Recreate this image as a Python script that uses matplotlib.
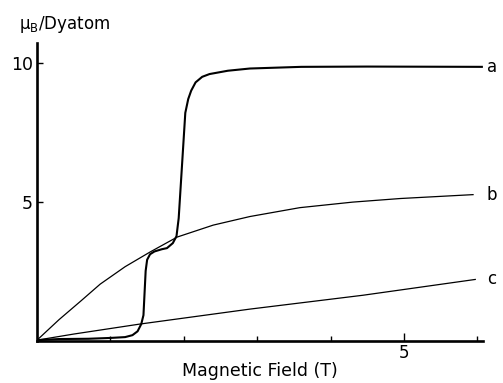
import numpy as np
import matplotlib
matplotlib.use("Agg")
import matplotlib.pyplot as plt

# field (T) and moment (muB / Dy atom)
field_a = [0, 0.3, 0.7, 1.0, 1.2, 1.3, 1.37, 1.42, 1.45, 1.48, 1.50, 1.54, 1.60,
           1.70, 1.77, 1.85, 1.90, 1.93, 2.02, 2.06, 2.10, 2.16, 2.25, 2.35,
           2.60, 2.90, 3.60, 4.50, 6.06]
moment_a = [0, 0.04, 0.05, 0.08, 0.11, 0.18, 0.32, 0.58, 0.9, 2.5, 2.9, 3.1, 3.2,
            3.28, 3.32, 3.5, 3.75, 4.4, 8.2, 8.7, 9.0, 9.3, 9.5, 9.6,
            9.72, 9.8, 9.86, 9.87, 9.86]

field_b = [0, 0.3, 0.6, 0.86, 1.2, 1.54, 1.91, 2.4, 2.90, 3.58, 4.3, 4.95, 5.94]
moment_b = [0, 0.74, 1.42, 2.02, 2.65, 3.18, 3.72, 4.15, 4.46, 4.78, 4.98, 5.11, 5.25]

field_c = [0, 0.5, 1.4, 2.9, 4.44, 5.97]
moment_c = [0, 0.22, 0.58, 1.12, 1.62, 2.19]

curve_labels = ["a", "b", "c"]

fig = plt.figure(figsize=(5.03, 3.83), dpi=100)
ax = fig.add_axes([0.0736, 0.1097, 0.8867, 0.778])

ax.plot(field_a, moment_a, color="black", lw=1.5)
ax.plot(field_b, moment_b, color="black", lw=0.9)
ax.plot(field_c, moment_c, color="black", lw=0.9)

ax.set_xlim(0, 6.076)
ax.set_ylim(-0.03, 10.72)

for s in ["top", "right"]:
    ax.spines[s].set_visible(False)
for s in ["left", "bottom"]:
    ax.spines[s].set_linewidth(1.9)

ax.set_xticks([5])
ax.set_xticks([1, 2, 3, 4, 6], minor=True)
ax.set_yticks([5, 10])
ax.set_yticklabels(["5", "10"])
ax.tick_params(axis="x", which="major", direction="in", length=6, width=1.0,
               labelsize=12, pad=2)
ax.tick_params(axis="x", which="minor", direction="in", length=3.5, width=1.0)
ax.tick_params(axis="y", which="major", direction="in", length=4, width=1.0,
               labelsize=12.5, pad=3)

ax.set_xlabel("Magnetic Field (T)", fontsize=12.5, labelpad=0)

fig.text(0.038, 0.937, "μ$_\\mathrm{B}$/Dyatom", fontsize=12, ha="left", va="center")

ends = [moment_a[-1], moment_b[-1], moment_c[-1]]
for lab, yv in zip(curve_labels, ends):
    ax.text(6.13, yv, lab, fontsize=12, ha="left", va="center", clip_on=False)

fig.savefig("out.png", dpi=100)
